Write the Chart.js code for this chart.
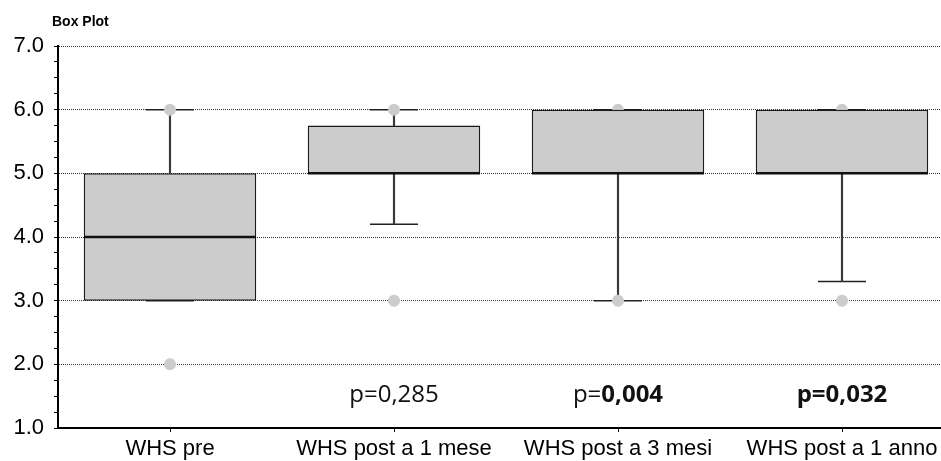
<!DOCTYPE html>
<html>
<head>
<meta charset="utf-8">
<title>Box Plot</title>
<script src="https://cdn.jsdelivr.net/npm/chart.js@4/dist/chart.umd.min.js"></script>
<style>
  html, body { margin: 0; padding: 0; background: #fff; }
  #wrap { width: 941px; height: 461px; overflow: hidden; position: relative; background: #fff; }
  #boxChart { display: block; }
</style>
</head>
<body>
<div id="wrap"><canvas id="boxChart" width="958" height="461"></canvas></div>
<script>
// WHS score at each time point
const categories = ['WHS pre', 'WHS post a 1 mese', 'WHS post a 3 mesi', 'WHS post a 1 anno'];
const whiskerLow = [3, 4.2, 3, 3.3];
const quartile1 = [3, 5, 5, 5];
const medians = [4, 5, 5, 5];
const quartile3 = [5, 5.75, 6, 6];
const whiskerHigh = [6, 6, 6, 6];
const maxPoints = [6, 6, 6, 6];
const minPoints = [2, 3, 3, 3];
const yTickLabels = [1, 2, 3, 4, 5, 6, 7];
// p-values versus baseline, as [text, bold] pieces
const pNotes = [
    [],
    [['p=0,285', false]],
    [['p=', false], ['0,004', true]],
    [['p=0,032', true]]
];
const pNoteLevel = 1.41;

const AXIS_FONT = "'Liberation Sans', Arial, sans-serif";
const NOTE_FONT = "'Open Sans', 'Noto Sans', sans-serif";

const boxRanges = categories.map((_, i) => [quartile1[i], quartile3[i]]);
const lowerStems = categories.map((_, i) => whiskerLow[i] < quartile1[i] ? [whiskerLow[i], quartile1[i]] : null);
const upperStems = categories.map((_, i) => whiskerHigh[i] > quartile3[i] ? [quartile3[i], whiskerHigh[i]] : null);

/**
 * small bold caption above the top-left corner of the plot
 */
const cornerTitle = {
    id: 'cornerTitle',
    afterDraw(chart, _args, opts) {
        const { ctx, chartArea } = chart;
        ctx.save();
        ctx.font = opts.font;
        ctx.fillStyle = opts.color;
        ctx.textBaseline = 'alphabetic';
        ctx.textAlign = 'left';
        ctx.fillText(opts.text, chartArea.left + opts.dx, chartArea.top + opts.dy);
        ctx.restore();
    }
};

/**
 * p-value notes centred under each group
 */
const pValueNotes = {
    id: 'pValueNotes',
    afterDatasetsDraw(chart, _args, opts) {
        const { ctx } = chart;
        const xScale = chart.scales.x;
        const yScale = chart.scales.y;
        const y = yScale.getPixelForValue(pNoteLevel);
        ctx.save();
        ctx.fillStyle = opts.color;
        ctx.textBaseline = 'alphabetic';
        ctx.textAlign = 'left';
        pNotes.forEach((parts, i) => {
            if (!parts.length) return;
            const fonts = parts.map(([, bold]) => `${bold ? 'bold ' : ''}${opts.size}px ${NOTE_FONT}`);
            const widths = parts.map(([text], k) => {
                ctx.font = fonts[k];
                return ctx.measureText(text).width;
            });
            const total = widths.reduce((a, b) => a + b, 0);
            let x = xScale.getPixelForValue(i) - total / 2;
            parts.forEach(([text], k) => {
                ctx.font = fonts[k];
                ctx.fillText(text, x, y);
                x += widths[k];
            });
        });
        ctx.restore();
    }
};

const canvas = /** @type {HTMLCanvasElement} */ (document.getElementById('boxChart'));

new Chart(canvas, {
    type: 'bar',
    data: {
        labels: categories,
        datasets: [
            {
                label: 'median',
                type: 'line',
                data: medians,
                showLine: false,
                pointStyle: 'line',
                pointRadius: 86,
                pointBorderColor: '#111',
                pointBorderWidth: 2.5,
                order: 1
            },
            {
                label: 'box',
                data: boxRanges,
                backgroundColor: '#cccccc',
                borderColor: '#1a1a1a',
                borderWidth: 1.5,
                borderSkipped: false,
                barPercentage: 0.77,
                categoryPercentage: 1,
                grouped: false,
                order: 2
            },
            {
                label: 'max',
                type: 'line',
                data: maxPoints,
                showLine: false,
                pointStyle: 'circle',
                pointRadius: 6,
                pointBackgroundColor: '#cccccc',
                pointBorderWidth: 0,
                order: 3
            },
            {
                label: 'min',
                type: 'line',
                data: minPoints,
                showLine: false,
                pointStyle: 'circle',
                pointRadius: 6,
                pointBackgroundColor: '#cccccc',
                pointBorderWidth: 0,
                order: 3
            },
            {
                label: 'upper whisker',
                data: upperStems,
                backgroundColor: '#3a3a3a',
                borderWidth: 0,
                barThickness: 1.5,
                grouped: false,
                order: 4
            },
            {
                label: 'lower whisker',
                data: lowerStems,
                backgroundColor: '#3a3a3a',
                borderWidth: 0,
                barThickness: 1.5,
                grouped: false,
                order: 4
            },
            {
                label: 'upper cap',
                type: 'line',
                data: whiskerHigh,
                showLine: false,
                pointStyle: 'line',
                pointRadius: 24,
                pointBorderColor: '#222',
                pointBorderWidth: 1.5,
                order: 4
            },
            {
                label: 'lower cap',
                type: 'line',
                data: whiskerLow,
                showLine: false,
                pointStyle: 'line',
                pointRadius: 24,
                pointBorderColor: '#222',
                pointBorderWidth: 1.5,
                order: 4
            }
        ]
    },
    options: {
        responsive: false,
        animation: false,
        events: [],
        layout: { autoPadding: false, padding: { top: 46, right: 4, left: 0, bottom: 0 } },
        plugins: {
            legend: { display: false },
            tooltip: { enabled: false },
            title: { display: false },
            cornerTitle: { text: 'Box Plot', font: `bold 14px ${AXIS_FONT}`, color: '#000', dx: -6, dy: -20 },
            pValueNotes: { size: 24, color: '#111' }
        },
        scales: {
            x: {
                offset: true,
                grid: { drawOnChartArea: false, offset: false, tickLength: 4, tickColor: '#000', tickWidth: 1 },
                border: { color: '#000', width: 2 },
                ticks: {
                    color: '#000',
                    font: { family: AXIS_FONT, size: 22 },
                    padding: 4,
                    maxRotation: 0,
                    autoSkip: false
                },
                afterFit: scale => { scale.height = 33; }
            },
            y: {
                min: 1,
                max: 7,
                grid: {
                    color: ctx => (ctx.tick && Number.isInteger(ctx.tick.value) && ctx.tick.value > 1) ? '#333' : 'rgba(0,0,0,0)',
                    lineWidth: 1,
                    tickColor: '#000',
                    tickLength: 4,
                    tickWidth: 1
                },
                border: { color: '#000', width: 2, dash: [1, 1] },
                ticks: {
                    stepSize: 0.25,
                    autoSkip: false,
                    padding: 10,
                    color: '#000',
                    font: { family: AXIS_FONT, size: 22 },
                    callback: value => yTickLabels.includes(value) ? Number(value).toFixed(1) : ''
                },
                afterFit: scale => { scale.width = 58; }
            }
        }
    },
    plugins: [cornerTitle, pValueNotes]
});
</script>
</body>
</html>
